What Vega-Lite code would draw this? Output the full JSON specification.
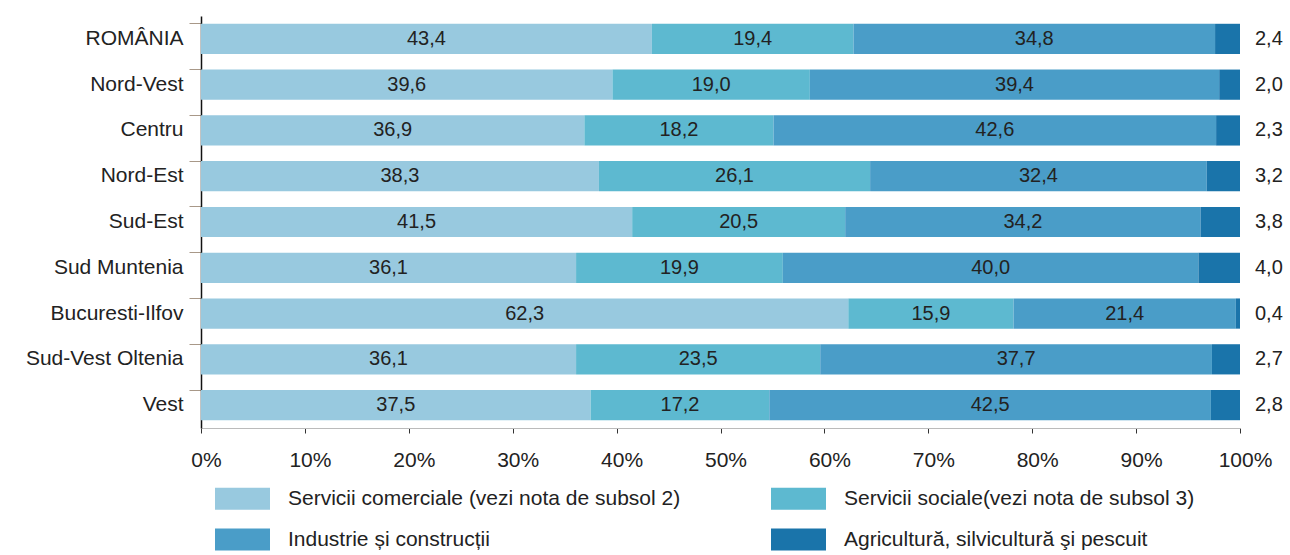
{
  "$schema": "https://vega.github.io/schema/vega-lite/v6.json",
  "width": 1039,
  "height": 412,
  "autosize": {"type": "none"},
  "padding": {"left": 201, "top": 16, "right": 50, "bottom": 127},
  "config": {
    "locale": {"number": {"decimal": ",", "thousands": ".", "grouping": [3], "currency": ["", ""]}},
    "font": "Liberation Sans",
    "view": {"stroke": null},
    "text": {"font": "Liberation Sans"}
  },
  "data": {"values": [
    {"region": "ROMÂNIA", "sector": "Servicii comerciale (vezi nota de subsol 2)", "k": 1, "value": 43.4},
    {"region": "ROMÂNIA", "sector": "Servicii sociale(vezi nota de subsol 3)", "k": 2, "value": 19.4},
    {"region": "ROMÂNIA", "sector": "Industrie și construcții", "k": 3, "value": 34.8},
    {"region": "ROMÂNIA", "sector": "Agricultură, silvicultură şi pescuit", "k": 4, "value": 2.4},
    {"region": "Nord-Vest", "sector": "Servicii comerciale (vezi nota de subsol 2)", "k": 1, "value": 39.6},
    {"region": "Nord-Vest", "sector": "Servicii sociale(vezi nota de subsol 3)", "k": 2, "value": 19.0},
    {"region": "Nord-Vest", "sector": "Industrie și construcții", "k": 3, "value": 39.4},
    {"region": "Nord-Vest", "sector": "Agricultură, silvicultură şi pescuit", "k": 4, "value": 2.0},
    {"region": "Centru", "sector": "Servicii comerciale (vezi nota de subsol 2)", "k": 1, "value": 36.9},
    {"region": "Centru", "sector": "Servicii sociale(vezi nota de subsol 3)", "k": 2, "value": 18.2},
    {"region": "Centru", "sector": "Industrie și construcții", "k": 3, "value": 42.6},
    {"region": "Centru", "sector": "Agricultură, silvicultură şi pescuit", "k": 4, "value": 2.3},
    {"region": "Nord-Est", "sector": "Servicii comerciale (vezi nota de subsol 2)", "k": 1, "value": 38.3},
    {"region": "Nord-Est", "sector": "Servicii sociale(vezi nota de subsol 3)", "k": 2, "value": 26.1},
    {"region": "Nord-Est", "sector": "Industrie și construcții", "k": 3, "value": 32.4},
    {"region": "Nord-Est", "sector": "Agricultură, silvicultură şi pescuit", "k": 4, "value": 3.2},
    {"region": "Sud-Est", "sector": "Servicii comerciale (vezi nota de subsol 2)", "k": 1, "value": 41.5},
    {"region": "Sud-Est", "sector": "Servicii sociale(vezi nota de subsol 3)", "k": 2, "value": 20.5},
    {"region": "Sud-Est", "sector": "Industrie și construcții", "k": 3, "value": 34.2},
    {"region": "Sud-Est", "sector": "Agricultură, silvicultură şi pescuit", "k": 4, "value": 3.8},
    {"region": "Sud Muntenia", "sector": "Servicii comerciale (vezi nota de subsol 2)", "k": 1, "value": 36.1},
    {"region": "Sud Muntenia", "sector": "Servicii sociale(vezi nota de subsol 3)", "k": 2, "value": 19.9},
    {"region": "Sud Muntenia", "sector": "Industrie și construcții", "k": 3, "value": 40.0},
    {"region": "Sud Muntenia", "sector": "Agricultură, silvicultură şi pescuit", "k": 4, "value": 4.0},
    {"region": "Bucuresti-Ilfov", "sector": "Servicii comerciale (vezi nota de subsol 2)", "k": 1, "value": 62.3},
    {"region": "Bucuresti-Ilfov", "sector": "Servicii sociale(vezi nota de subsol 3)", "k": 2, "value": 15.9},
    {"region": "Bucuresti-Ilfov", "sector": "Industrie și construcții", "k": 3, "value": 21.4},
    {"region": "Bucuresti-Ilfov", "sector": "Agricultură, silvicultură şi pescuit", "k": 4, "value": 0.4},
    {"region": "Sud-Vest Oltenia", "sector": "Servicii comerciale (vezi nota de subsol 2)", "k": 1, "value": 36.1},
    {"region": "Sud-Vest Oltenia", "sector": "Servicii sociale(vezi nota de subsol 3)", "k": 2, "value": 23.5},
    {"region": "Sud-Vest Oltenia", "sector": "Industrie și construcții", "k": 3, "value": 37.7},
    {"region": "Sud-Vest Oltenia", "sector": "Agricultură, silvicultură şi pescuit", "k": 4, "value": 2.7},
    {"region": "Vest", "sector": "Servicii comerciale (vezi nota de subsol 2)", "k": 1, "value": 37.5},
    {"region": "Vest", "sector": "Servicii sociale(vezi nota de subsol 3)", "k": 2, "value": 17.2},
    {"region": "Vest", "sector": "Industrie și construcții", "k": 3, "value": 42.5},
    {"region": "Vest", "sector": "Agricultură, silvicultură şi pescuit", "k": 4, "value": 2.8}
  ]},
  "transform": [
    {"stack": "value", "groupby": ["region"], "sort": [{"field": "k", "order": "ascending"}], "as": ["x0", "x1"]},
    {"calculate": "(datum.x0 + datum.x1) / 2", "as": "xm"}
  ],
  "encoding": {
    "y": {
      "field": "region", "type": "nominal", "sort": null, "title": null,
      "scale": {"paddingInner": 0.34, "paddingOuter": 0.17},
      "axis": {
        "bandPosition": 0, "domainColor": "#111111", "domainWidth": 1.5,
        "tickColor": "#a89888", "tickSize": 12, "tickWidth": 1,
        "labelFontSize": 21, "labelColor": "#222222", "labelPadding": 6,
        "labelFont": "Liberation Sans"
      }
    }
  },
  "layer": [
    {
      "mark": {"type": "bar"},
      "encoding": {
        "x": {
          "field": "x0", "type": "quantitative", "title": null,
          "scale": {"domain": [0, 100], "nice": false},
          "axis": {
            "values": [0, 10, 20, 30, 40, 50, 60, 70, 80, 90, 100],
            "labelExpr": "datum.value + '%'",
            "domainColor": "#bbbbbb", "tickColor": "#333333", "tickSize": 5,
            "labelFontSize": 21, "labelColor": "#222222", "labelPadding": 16,
            "labelOffset": 5,
            "labelFlush": false, "grid": false, "labelFont": "Liberation Sans"
          }
        },
        "x2": {"field": "x1"},
        "color": {
          "field": "sector", "type": "nominal",
          "scale": {
            "domain": ["Servicii comerciale (vezi nota de subsol 2)", "Servicii sociale(vezi nota de subsol 3)", "Industrie și construcții", "Agricultură, silvicultură şi pescuit"],
            "range": ["#98c9df", "#5db9d0", "#4a9dc8", "#1a74aa"]
          },
          "legend": {
            "title": null, "orient": "none", "legendX": 14, "legendY": 455,
            "direction": "horizontal", "columns": 2, "columnPadding": 90, "rowPadding": 2,
            "symbolType": "M-1,-0.4H1V0.4H-1Z", "symbolSize": 3025, "symbolStrokeWidth": 0,
            "symbolOpacity": 1, "labelFontSize": 21, "labelColor": "#222222", "labelOffset": 18,
            "labelFont": "Liberation Sans", "labelLimit": 600
          }
        },
        "order": {"field": "k"}
      }
    },
    {
      "transform": [{"filter": "datum.k < 4"}],
      "mark": {"type": "text", "fontSize": 20, "color": "#222222", "baseline": "middle"},
      "encoding": {
        "x": {"field": "xm", "type": "quantitative"},
        "text": {"field": "value", "type": "quantitative", "format": ".1f"}
      }
    },
    {
      "transform": [{"filter": "datum.k == 4"}],
      "mark": {"type": "text", "fontSize": 20, "color": "#222222", "baseline": "middle", "align": "left", "dx": 15},
      "encoding": {
        "x": {"field": "x1", "type": "quantitative"},
        "text": {"field": "value", "type": "quantitative", "format": ".1f"}
      }
    }
  ]
}
